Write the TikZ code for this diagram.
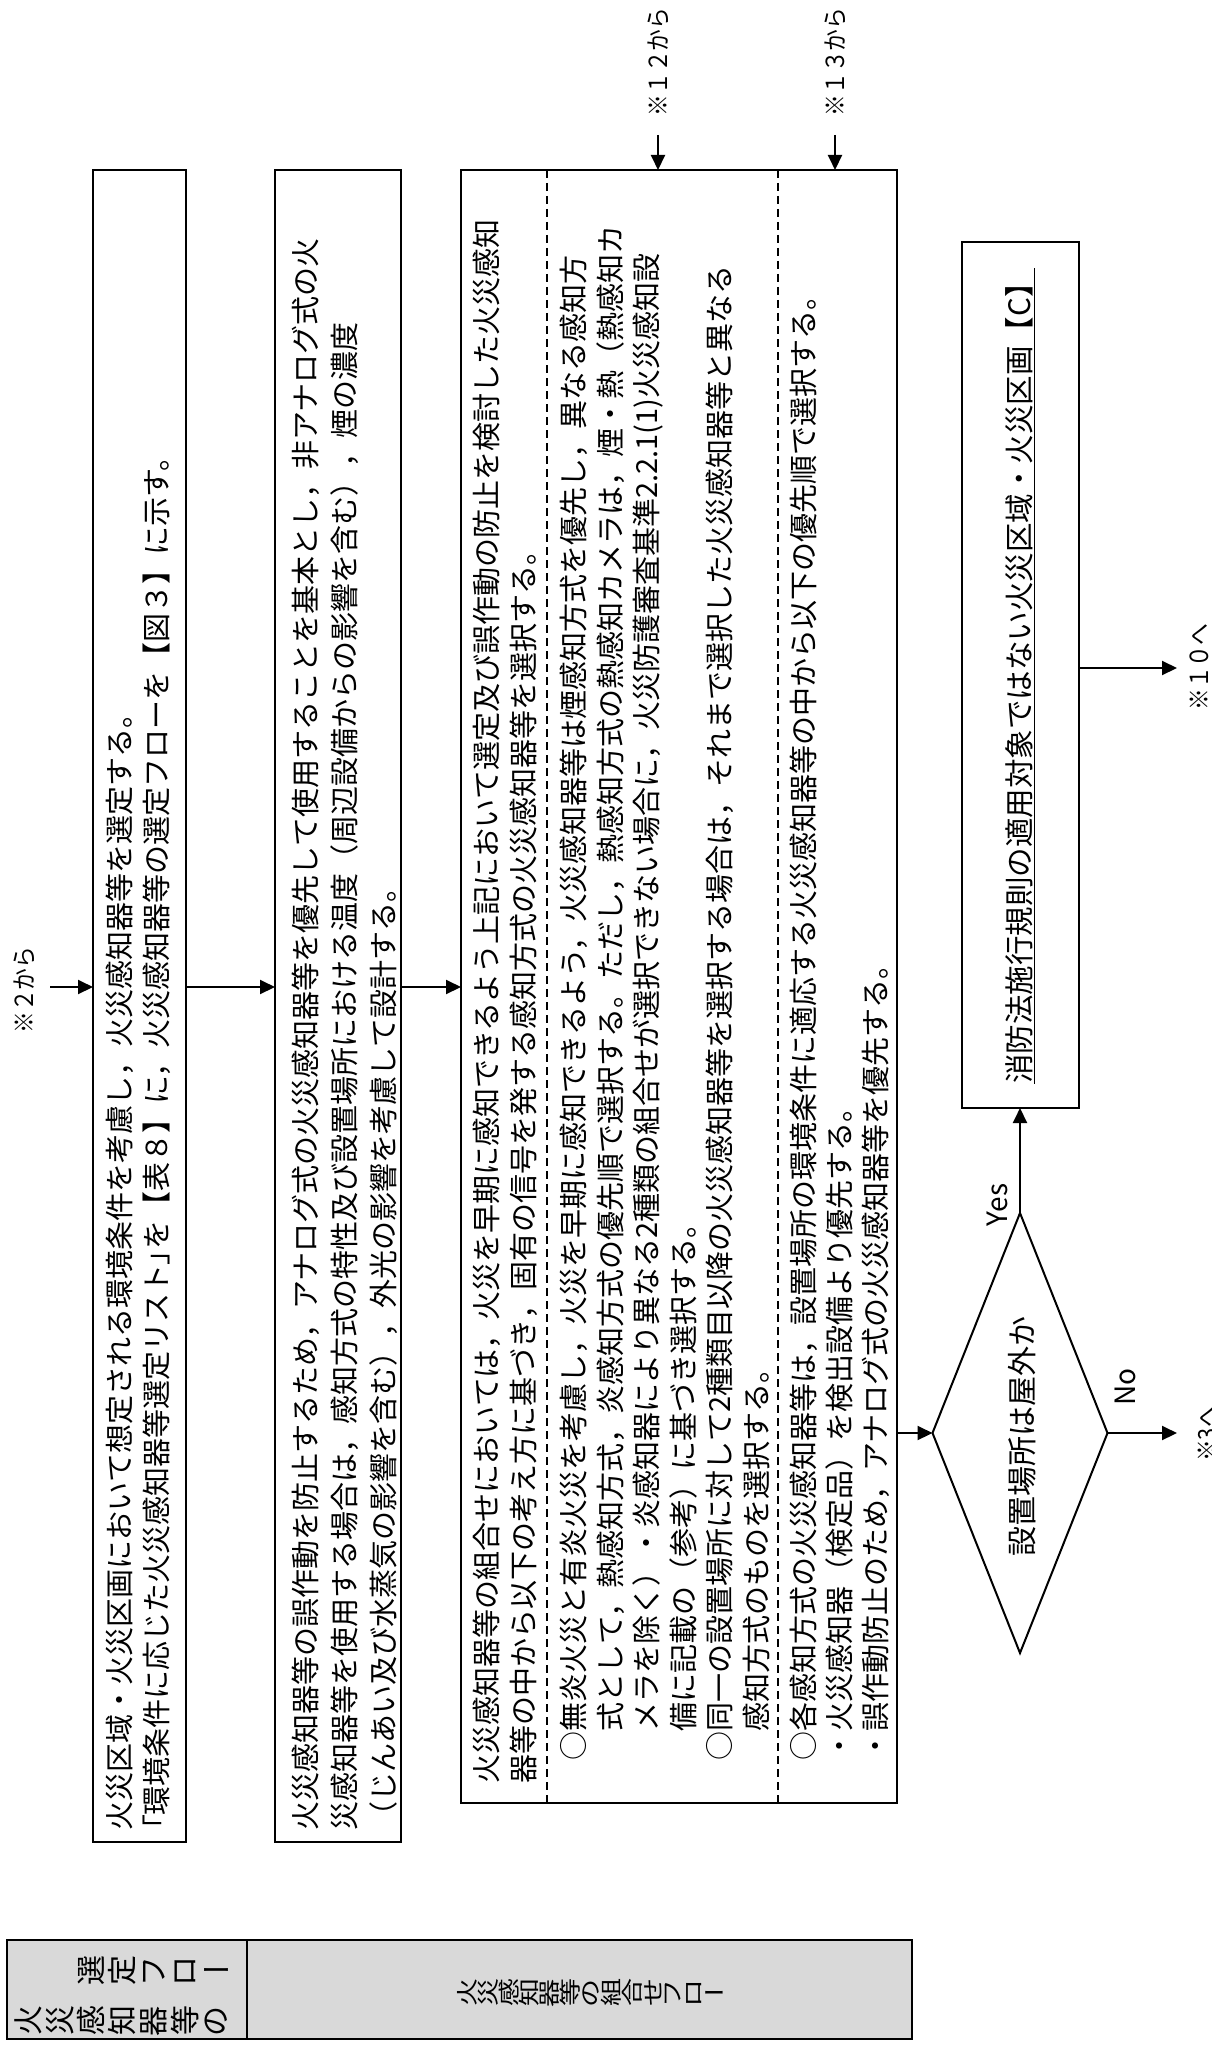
\documentclass[tikz,border=0pt]{standalone}
\usepackage{fontspec}
\usepackage{graphicx}
\setmainfont{Noto Sans CJK JP}
\usetikzlibrary{arrows.meta,shapes.geometric}
\definecolor{cellgray}{RGB}{217,217,217}
\newcommand{\rcA}[1]{\makebox[1.04em][c]{\rotatebox[origin=c]{90}{#1}}}
\newcommand{\stA}[1]{\makebox[1.04em][c]{#1}}
\newcommand{\rcB}[1]{\makebox[0.736em][c]{\scalebox{0.78}[1]{\rotatebox[origin=c]{90}{#1}}}}
\newcommand{\stB}[1]{\makebox[0.736em][c]{\scalebox{0.78}[1]{#1}}}
\newcommand{\cmp}[1]{\scalebox{0.87}[1]{#1}}
\newcommand{\pbr}[1]{{\addfontfeature{RawFeature=+palt}#1}}
\begin{document}
\begin{tikzpicture}[x=1pt,y=-1pt,
  box/.style={draw, line width=2pt, inner sep=0pt, outer sep=0pt},
  txt/.style={rotate=90, inner sep=0pt, outer sep=0pt, align=left, anchor=north west},
  arr/.style={line width=2pt, -{Triangle[length=15pt,width=14pt]}},
  lab/.style={rotate=90, inner sep=0pt, font=\fontsize{25}{28}\selectfont},
  dsh/.style={line width=1.2pt, dash pattern=on 8pt off 5pt},
]
\useasboundingbox (0,0) rectangle (1211,2049);
\clip (0,0) rectangle (1211,2049);
\fill[white] (0,0) rectangle (1211,2049);

% boxes
\node[box, minimum width=93pt, minimum height=1672pt] (b1) at (139.5,1006) {};
\node[box, minimum width=126pt, minimum height=1672pt] (b2) at (338,1006) {};
\node[box, minimum width=436pt, minimum height=1633pt] (b3) at (679,986.5) {};
\node[box, minimum width=117pt, minimum height=866pt] (bc) at (1020,675) {};
\node[box, diamond, rotate=90, minimum width=440pt, minimum height=175pt] (d) at (1020,1433) {};

% dashed separators in box 3
\coordinate (dl1) at (547,0);
\coordinate (dl2) at (778,0);
\draw[dsh] (dl1 |- b3.north) -- (dl1 |- b3.south);
\draw[dsh] (dl2 |- b3.north) -- (dl2 |- b3.south);

% texts
\node[txt, font=\fontsize{29}{37}\selectfont] (t1) at (106,1830) {%
火災区域・火災区画において想定される環境条件を考慮し，火災感知器等を選定する。\\
\pbr{「}環境条件に応じた火災感知器等選定リスト\pbr{」}を【表８】に，火災感知器等の選定フローを【図３】に示す。};

\node[txt, font=\fontsize{29}{39}\selectfont] (t2) at (292,1830) {%
火災感知器等の誤作動を防止するため，アナログ式の火災感知器等を優先して使用することを基本とし，非アナログ式の火\\
災感知器等を使用する場合は，感知方式の特性及び設置場所における温度（周辺設備からの影響を含む），煙の濃度\\
（じんあい及び水蒸気の影響を含む），外光の影響を考慮して設計する。};

\node[txt, font=\fontsize{29}{37}\selectfont] (t3a) at (473,1783) {%
火災感知器等の組合せにおいては，火災を早期に感知できるよう上記において選定及び誤作動の防止を検討した火災感知\\
器等の中から以下の考え方に基づき，固有の信号を発する感知方式の火災感知器等を選択する。};

\node[txt, font=\fontsize{29}{36.5}\selectfont] (t3b) at (560,1760) {%
○無炎火災と有炎火災を考慮し，火災を早期に感知できるよう，火災感知器等は煙感知方式を優先し，異なる感知方\\
\hspace*{1em}式として，熱感知方式，炎感知方式の優先順で選択する。ただし，熱感知方式の熱感知カメラは，煙・熱（熱感知カ\\
\hspace*{1em}メラを除く）・炎感知器により異なる2種類の組合せが選択できない場合に，火災防護審査基準2.2.1(1)火災感知設\\
\hspace*{1em}備に記載の（参考）に基づき選択する。\\
○同一の設置場所に対して2種類目以降の火災感知器等を選択する場合は，それまで選択した火災感知器等と異なる\\
\hspace*{1em}感知方式のものを選択する。};

\node[txt, font=\fontsize{29}{36}\selectfont] (t3c) at (790,1760) {%
○各感知方式の火災感知器等は，設置場所の環境条件に適応する火災感知器等の中から以下の優先順で選択する。\\
・火災感知器（検定品）を検出設備より優先する。\\
・誤作動防止のため，アナログ式の火災感知器等を優先する。};

\node[rotate=90, inner sep=0pt, font=\fontsize{30}{36}\selectfont] (dt) at (1022,1436) {設置場所は屋外か};
\node[rotate=90, inner sep=0pt, font=\fontsize{29.5}{36}\selectfont] (ct) at (1020,676) {\underline{消防法施行規則の適用対象ではない火災区域・火災区画【C】}};

% arrows
\coordinate (s2) at (50,987);
\draw[arr] (s2) -- (s2 -| b1.west);
\draw[arr] (b1.east |- s2) -- (b2.west |- s2);
\draw[arr] (b2.east |- s2) -- (b3.west |- s2);
\draw[arr] (b3.east |- d.north) -- (d.north);
\draw[arr] (d.east) -- (d.east |- bc.south);
\coordinate (e10) at (1177,668);
\draw[arr] (bc.east |- e10) -- (e10);
\coordinate (e3) at (1177,1433);
\draw[arr] (d.south) -- (e3);
\coordinate (s12) at (658,135);
\draw[arr] (s12) -- (s12 |- b3.north);
\coordinate (s13) at (835,135);
\draw[arr] (s13) -- (s13 |- b3.north);

% labels
\node[lab] (l2) at (24,990) {\cmp{※２から}};
\node[lab] (l12) at (658,62) {\cmp{※１２から}};
\node[lab] (l13) at (835,62) {\cmp{※１３から}};
\node[lab] (l10) at (1199,667) {\cmp{※１０へ}};
\node[lab] (l3) at (1207,1434) {\cmp{※3へ}};
\node[rotate=90, inner sep=0pt, font=\fontsize{28}{30}\selectfont] (yes) at (997,1205) {Yes};
\node[rotate=90, inner sep=0pt, font=\fontsize{28}{30}\selectfont] (no) at (1125,1387) {No};

% bottom table
\node[box, fill=cellgray, minimum width=240pt, minimum height=99pt] (h1) at (127,1989.5) {};
\node[box, fill=cellgray, minimum width=665pt, minimum height=99pt] (h2) at (579.5,1989.5) {};
\node[inner sep=0pt, anchor=west, font=\fontsize{30}{32}\selectfont] (h1a) at (13,2021)
  {\rcA{火}\rcA{災}\rcA{感}\rcA{知}\rcA{器}\rcA{等}\rcA{の}};
\node[inner sep=0pt, anchor=east, font=\fontsize{30}{32}\selectfont] (h1b) at (232,1971)
  {\rcA{選}\rcA{定}\rcA{フ}\rcA{ロ}\stA{ー}};
\node[inner sep=0pt, font=\fontsize{28}{30}\selectfont] (h2a) at (591,1993)
  {\rcB{火}\rcB{災}\rcB{感}\rcB{知}\rcB{器}\rcB{等}\rcB{の}\rcB{組}\rcB{合}\rcB{せ}\rcB{フ}\rcB{ロ}\stB{ー}};
\end{tikzpicture}
\end{document}
